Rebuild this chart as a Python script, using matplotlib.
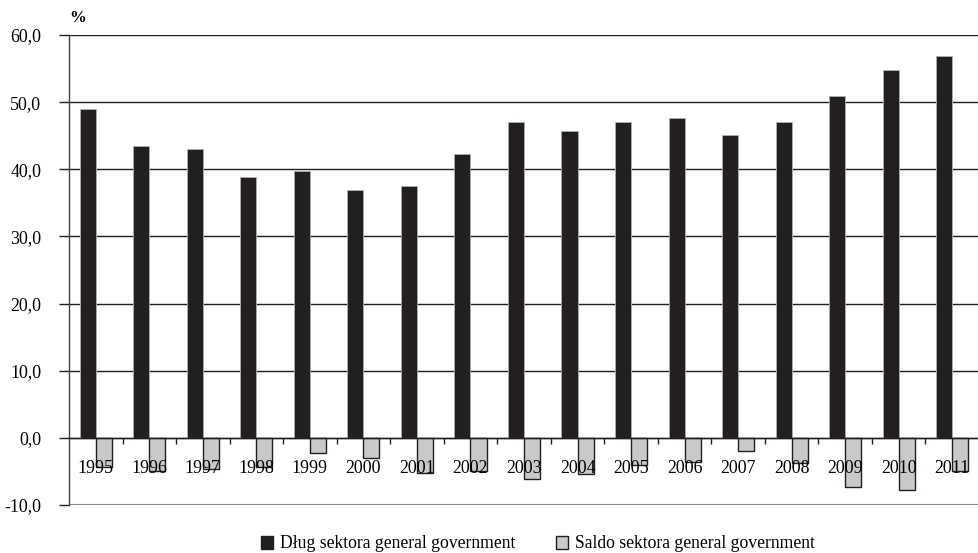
import matplotlib
matplotlib.use("Agg")
import matplotlib.pyplot as plt
from matplotlib.patches import Patch
import numpy as np

plt.rcParams['font.family'] = ['Liberation Serif', 'DejaVu Serif']

years = ['1995', '1996', '1997', '1998', '1999', '2000', '2001', '2002', '2003',
         '2004', '2005', '2006', '2007', '2008', '2009', '2010', '2011']
debt = [49.0, 43.4, 43.0, 38.9, 39.7, 36.9, 37.5, 42.3, 47.1,
        45.7, 47.1, 47.7, 45.1, 47.1, 50.9, 54.8, 56.8]
balance = [-4.4, -4.9, -4.6, -4.3, -2.2, -3.0, -5.2, -5.0, -6.1,
           -5.4, -4.1, -3.6, -2.0, -3.7, -7.3, -7.8, -5.0]
series_names = ['Dług sektora general government', 'Saldo sektora general government']
yticks = [-10, 0, 10, 20, 30, 40, 50, 60]

W, H = 979, 553
fig = plt.figure(figsize=(W / 100, H / 100), dpi=100)
ax = fig.add_axes([69 / W, 1 - 505 / H, 910 / W, 470 / H])

x = np.arange(len(years))
bw = 0.3
dark = '#231f20'
light = '#c8c9ca'
ax.bar(x - bw / 2, debt, width=bw, color=dark, edgecolor='#b0b0b0', linewidth=0.6, zorder=3)
ax.bar(x + bw / 2, balance, width=bw, color=light, edgecolor='#231f20', linewidth=1.0, zorder=3)

ax.set_xlim(-0.5, len(years) - 0.5)
ax.set_ylim(-10, 60)
ax.set_yticks(yticks)
ax.set_yticklabels([f"{v:.1f}".replace('.', ',') for v in yticks], fontsize=12.9)
ax.tick_params(axis='y', direction='out', length=7, width=1, color='#231f20', pad=13)

# horizontal gridlines behind the bars
ax.grid(axis='y', color='#231f20', linewidth=1.0)
ax.set_axisbelow(True)
for val, gl in zip(yticks, ax.yaxis.get_gridlines()):
    if val == -10:
        gl.set_color('#8a8a8a')
        gl.set_linewidth(1.5)

# category axis sits on the zero line; its year labels are drawn over the bars
ax.xaxis.set_zorder(5)
ax.spines['bottom'].set_position(('data', 0))
ax.spines['bottom'].set_color('#231f20')
ax.spines['bottom'].set_linewidth(1.0)
ax.spines['bottom'].set_zorder(4)
ax.spines['top'].set_visible(False)
ax.spines['right'].set_visible(False)
ax.spines['left'].set_color('#404040')
ax.spines['left'].set_linewidth(1.0)

ax.set_xticks(x)
ax.set_xticklabels(years, fontsize=12.9)
ax.tick_params(axis='x', which='major', length=0, pad=16)
ax.set_xticks(np.arange(0.5, len(years) - 1, 1.0), minor=True)
ax.tick_params(axis='x', which='minor', direction='out', length=4, width=1, color='#231f20')

fig.text(69 / W, 1 - 18 / H, '%', fontsize=12, fontweight='bold', ha='left', va='center')

handles = [Patch(facecolor=dark, edgecolor=dark), Patch(facecolor=light, edgecolor='#231f20')]
fig.legend(handles, series_names, loc='center', bbox_to_anchor=(538 / W, 1 - 544 / H),
           ncol=2, frameon=False, fontsize=12.7, handlelength=0.7, handleheight=0.7,
           handletextpad=0.4, columnspacing=2.3, borderpad=0, borderaxespad=0)

fig.savefig('out.png', dpi=100)
